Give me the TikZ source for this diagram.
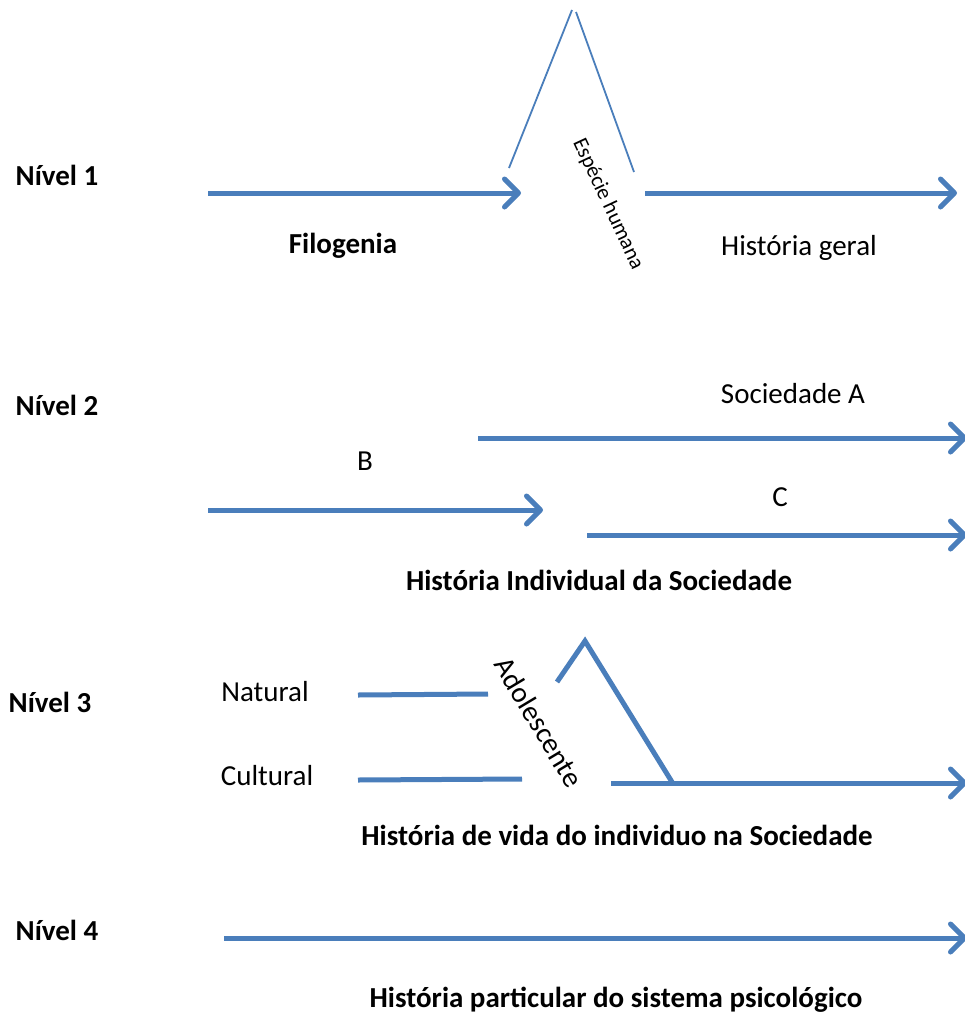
\documentclass[tikz,border=0pt]{standalone}
\usepackage{fontspec}
\setmainfont{Carlito}
\usetikzlibrary{arrows.meta}
\definecolor{lineblue}{HTML}{4A7EBB}
\begin{document}
\begin{tikzpicture}[x=1pt,y=-1pt,
  lbl/.style={inner sep=0pt,font=\fontsize{29}{35}\selectfont},
  blbl/.style={inner sep=0pt,font=\fontsize{29}{35}\selectfont\bfseries},
  thick arrow/.style={draw=lineblue,line width=5pt,
    -{Straight Barb[length=14pt,width=28pt,line width=5pt,round]}},
  thick line/.style={draw=lineblue,line width=5pt},
  thin line/.style={draw=lineblue,line width=1.8pt}]
\useasboundingbox (0,0) rectangle (965,1015);
% Level 1
\node[blbl] (n1) at (57,175) {Nível 1};
\coordinate (a1s) at (208,193);
\coordinate (a1e) at (521,193);
\draw[thick arrow] (a1s) -- (a1e);
\coordinate (p1l) at (509,168);
\coordinate (p1a) at (572,10);
\coordinate (p1b) at (576,12);
\coordinate (p1r) at (634,172);
\draw[thin line] (p1l) -- (p1a);
\draw[thin line] (p1b) -- (p1r);
\node[inner sep=0pt,font=\fontsize{21.5}{25}\selectfont,rotate=-65] (esp) at (608,204) {Espécie humana};
\coordinate (a2s) at (645,193);
\coordinate (a2e) at (957,193);
\draw[thick arrow] (a2s) -- (a2e);
\node[blbl] (filo) at (343,246) {Filogenia};
\node[lbl] (hg) at (799,248) {História geral};
% Level 2
\node[blbl] (n2) at (57,405) {Nível 2};
\node[lbl] (socA) at (793,394) {Sociedade A};
\coordinate (bAs) at (478,438);
\coordinate (bAe) at (967,438);
\draw[thick arrow] (bAs) -- (bAe);
\node[lbl] (B) at (365,461) {B};
\coordinate (bBs) at (208,510);
\coordinate (bBe) at (543,510);
\draw[thick arrow] (bBs) -- (bBe);
\node[lbl] (C) at (780,497) {C};
\coordinate (bCs) at (587,535);
\coordinate (bCe) at (967,535);
\draw[thick arrow] (bCs) -- (bCe);
\node[blbl] (his2) at (599,580) {História Individual da Sociedade};
% Level 3
\node[blbl] (n3) at (50,702) {Nível 3};
\node[lbl] (nat) at (265,692) {Natural};
\coordinate (natS) at (358,695);
\coordinate (natE) at (488,694);
\draw[thick line] (natS) -- (natE);
\node[lbl] (cult) at (267,776) {Cultural};
\coordinate (cuS) at (358,780);
\coordinate (cuE) at (522,779);
\draw[thick line] (cuS) -- (cuE);
\node[lbl,rotate=-59] (ado) at (539,722) {Adolescente};
\coordinate (k1) at (557,682);
\coordinate (k2) at (585,641);
\coordinate (k3) at (672,782);
\draw[thick line,line join=miter] (k1) -- (k2) -- (k3);
\coordinate (hS) at (611,783);
\coordinate (hE) at (967,783);
\draw[thick arrow] (hS) -- (hE);
\node[blbl] (his3) at (617,835) {História de vida do individuo na Sociedade};
% Level 4
\node[blbl] (n4) at (57,930) {Nível 4};
\coordinate (l4s) at (224,938);
\coordinate (l4e) at (967,938);
\draw[thick arrow] (l4s) -- (l4e);
\node[blbl] (his4) at (616,1000) {História particular do sistema psicológico};
\end{tikzpicture}
\end{document}
